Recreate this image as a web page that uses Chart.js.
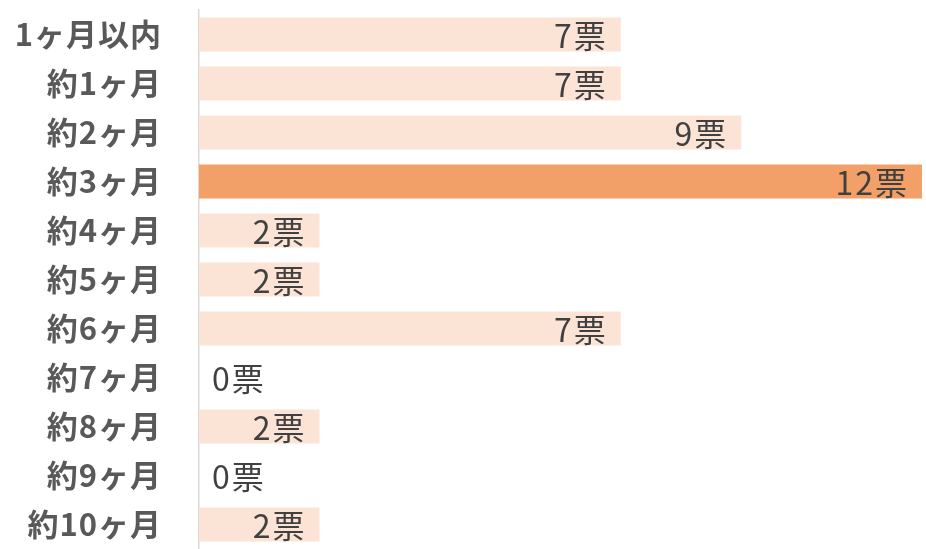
<!DOCTYPE html>
<html>
<head>
<meta charset="utf-8">
<script src="https://cdn.jsdelivr.net/npm/chart.js@4/dist/chart.umd.min.js"></script>
<style>
  html, body { margin: 0; padding: 0; background: #fff; }
  #wrap { width: 926px; height: 549px; position: relative; }
</style>
</head>
<body>
<div id="wrap"><canvas id="barChart"></canvas></div>
<script>
const categories = ['1ヶ月以内', '約1ヶ月', '約2ヶ月', '約3ヶ月', '約4ヶ月', '約5ヶ月',
	'約6ヶ月', '約7ヶ月', '約8ヶ月', '約9ヶ月', '約10ヶ月'];
const votes = [7, 7, 9, 12, 2, 2, 7, 0, 2, 0, 2];
const unit = '票';

const COLORS = {
	Normal : '#FBE3D5',
	Top : '#F2A068',
	Label : '#404040',
	Category : '#595959',
	Axis : '#d9d9d9'
};

const FONT = '"Noto Sans CJK JP", "Noto Sans", sans-serif';

const topValue = Math.max(...votes);

// a little letter spacing for the category labels drawn by the y axis
const spacing = {
	id: 'spacing',
	beforeDraw(chart){ chart.ctx.letterSpacing = '1px'; },
	afterDraw(chart){ chart.ctx.letterSpacing = '0px'; }
};

// draws "n票" at the end of each bar, or just past the axis when zero
const valueLabels = {
	id: 'valueLabels',
	afterDatasetsDraw(chart){
		let ctx = chart.ctx;
		let meta = chart.getDatasetMeta(0);
		ctx.save();
		ctx.font = '32px ' + FONT;
		ctx.letterSpacing = '2px';
		ctx.fillStyle = COLORS.Label;
		ctx.textBaseline = 'middle';
		meta.data.forEach((bar, i) => {
			let text = votes[i] + unit;
			if (votes[i] > 0) {
				ctx.textAlign = 'right';
				ctx.fillText(text, bar.x - 13, bar.y + 1);
			} else {
				ctx.textAlign = 'left';
				ctx.fillText(text, bar.x + 13, bar.y + 1);
			}
		});
		ctx.restore();
	}
};

new Chart(document.getElementById('barChart').getContext('2d'), {
	type: 'bar',
	data: {
		labels: categories,
		datasets: [{
			data: votes,
			backgroundColor: votes.map(v => v === topValue ? COLORS.Top : COLORS.Normal),
			borderWidth: 0,
			categoryPercentage: 1.0,
			barPercentage: 0.69
		}]
	},
	options: {
		indexAxis: 'y',
		responsive: true,
		maintainAspectRatio: false,
		animation: false,
		layout: { padding: { top: 10, right: 4, bottom: 0, left: 0 } },
		plugins: {
			legend: { display: false },
			tooltip: { enabled: false }
		},
		scales: {
			x: {
				display: false,
				min: 0,
				max: 12
			},
			y: {
				afterFit(scale){
					// fixed gutter for the labels, no extra room above/below
					scale.width = 199;
					scale.paddingTop = 0;
					scale.paddingBottom = 0;
				},
				grid: { display: false, drawTicks: false },
				border: { display: true, color: COLORS.Axis, width: 1.5 },
				ticks: {
					padding: 37,
					color: COLORS.Category,
					font: { family: FONT, size: 31, weight: 'bold' }
				}
			}
		}
	},
	plugins: [spacing, valueLabels]
});
</script>
</body>
</html>
